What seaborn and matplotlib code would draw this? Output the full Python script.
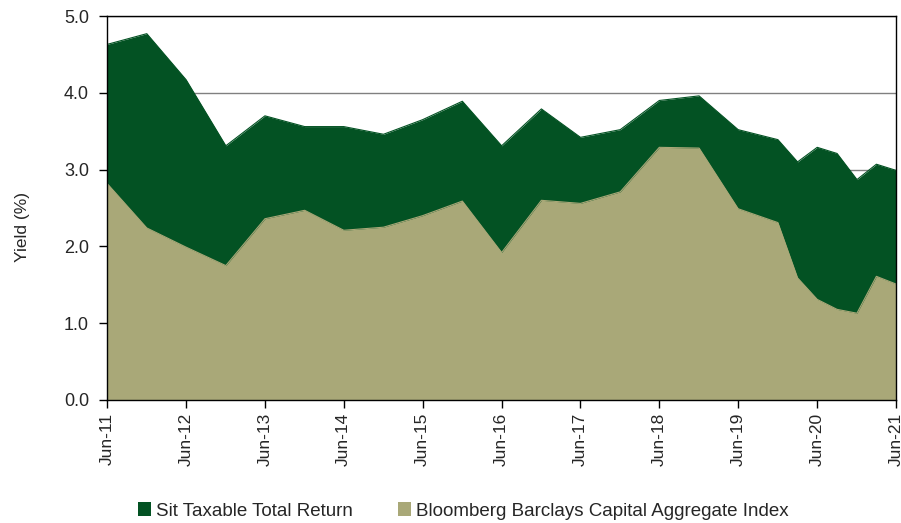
import pandas as pd
import matplotlib.pyplot as plt
from matplotlib.patches import Patch
import seaborn as sns

# dados (rendimento, %)
datas = ['2011-06-30', '2011-12-31', '2012-06-30', '2012-12-31', '2013-06-30', '2013-12-31',
         '2014-06-30', '2014-12-31', '2015-06-30', '2015-12-31', '2016-06-30', '2016-12-31',
         '2017-06-30', '2017-12-31', '2018-06-30', '2018-12-31', '2019-06-30', '2019-12-31',
         '2020-03-31', '2020-06-30', '2020-09-30', '2020-12-31', '2021-03-31', '2021-06-30']
sit_taxable = [4.63, 4.77, 4.17, 3.31, 3.70, 3.56, 3.56, 3.46, 3.65, 3.89, 3.31, 3.79,
               3.42, 3.52, 3.90, 3.96, 3.52, 3.39, 3.10, 3.29, 3.21, 2.87, 3.07, 2.99]
bloomberg = [2.82, 2.24, 1.99, 1.75, 2.36, 2.47, 2.21, 2.25, 2.40, 2.59, 1.92, 2.60,
             2.56, 2.71, 3.29, 3.28, 2.49, 2.31, 1.59, 1.31, 1.18, 1.13, 1.61, 1.51]
tick_labels = ['Jun-11', 'Jun-12', 'Jun-13', 'Jun-14', 'Jun-15', 'Jun-16',
               'Jun-17', 'Jun-18', 'Jun-19', 'Jun-20', 'Jun-21']
nomes = ['Sit Taxable Total Return', 'Bloomberg Barclays Capital Aggregate Index']
cores = ['#035223', '#A9A878']

df = pd.DataFrame({'data': pd.to_datetime(datas), nomes[0]: sit_taxable, nomes[1]: bloomberg})

sns.set_style('white')
plt.rcParams['font.family'] = ['Liberation Sans', 'DejaVu Sans']

fig = plt.figure(figsize=(9.01, 5.23), dpi=100)
ax = fig.add_axes([0.1188, 0.2352, 0.8757, 0.7342])

# áreas sobrepostas (não empilhadas)
for nome, cor in zip(nomes, cores):
    sns.lineplot(data=df, x='data', y=nome, color=cor, linewidth=0.8, ax=ax, zorder=3)
    ax.fill_between(df['data'], 0, df[nome], color=cor, linewidth=0, zorder=3)

ax.set_ylim(0, 5)
ax.set_yticks([0, 1, 2, 3, 4, 5])
ax.set_yticklabels(['0.0', '1.0', '2.0', '3.0', '4.0', '5.0'])
ax.set_xlim(df['data'].iloc[0], df['data'].iloc[-1])
ticks = pd.to_datetime([f'20{t[-2:]}-06-30' for t in tick_labels])
ax.set_xticks(ticks)
ax.set_xticklabels(tick_labels, rotation=90)
ax.yaxis.grid(True, color='#808080', linewidth=1, zorder=0)
ax.set_axisbelow(True)
ax.tick_params(axis='both', direction='out', length=6, width=1, color='black',
               left=True, bottom=True)
ax.tick_params(axis='y', labelsize=13, pad=7)
ax.tick_params(axis='x', labelsize=12.5, pad=3)
for s in ax.spines.values():
    s.set_color('black')
    s.set_linewidth(1)
    s.set_zorder(5)

ax.set_xlabel('')
ax.set_ylabel('Yield (%)', fontsize=12.5)
ax.yaxis.set_label_coords(-0.098, 0.45)

handles = [Patch(facecolor=c, edgecolor='none') for c in cores]
fig.legend(handles, nomes, loc='center', bbox_to_anchor=(0.514, 0.023), ncol=2, frameon=False,
           fontsize=13.5, handlelength=0.7, handleheight=0.7, handletextpad=0.25, columnspacing=2.4)

plt.savefig('out.png', dpi=100)
